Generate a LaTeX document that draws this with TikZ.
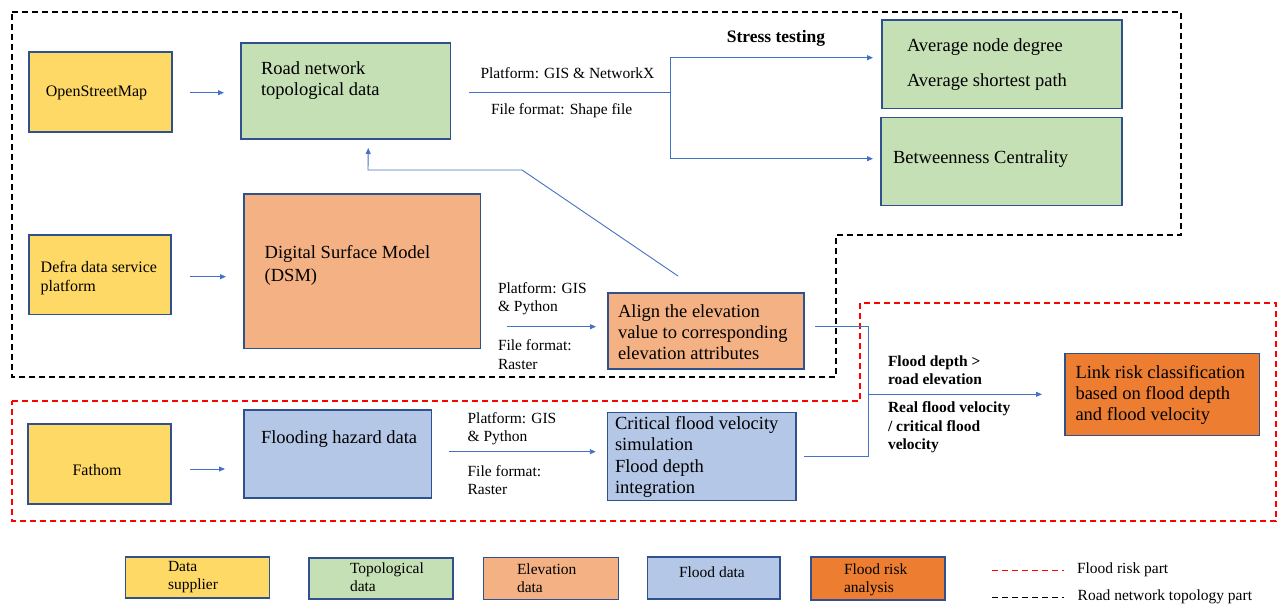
\documentclass[tikz,border=0pt]{standalone}
\usepackage{fontspec}
\setmainfont{Liberation Serif}
\usetikzlibrary{arrows.meta,calc}
\definecolor{cyel}{HTML}{FFD966}
\definecolor{cgrn}{HTML}{C5E0B4}
\definecolor{csal}{HTML}{F4B183}
\definecolor{cblu}{HTML}{B4C7E7}
\definecolor{corg}{HTML}{ED7D31}
\definecolor{cbord}{HTML}{2F528F}
\definecolor{cline}{HTML}{4472C4}
\definecolor{cred}{HTML}{FF0000}
\begin{document}
\begin{tikzpicture}[x=1pt,y=-1pt,
  box/.style={draw=cbord,line width=1.3pt,inner sep=0pt,outer sep=0pt},
  txt/.style={inner sep=0pt,outer sep=0pt,align=left,anchor=west},
  big/.style={font=\fontsize{18.5}{21.3}\selectfont},
  mid/.style={font=\fontsize{16}{19}\selectfont},
  lab/.style={font=\fontsize{15.5}{18.5}\selectfont},
  blab/.style={font=\fontsize{15.5}{18.5}\selectfont\bfseries},
  conn/.style={draw=cline,line width=0.9pt},
  arr/.style={conn,-{Triangle[length=6pt,width=5pt]}},
  bdash/.style={draw=black,line width=1.4pt,dash pattern=on 6pt off 4pt},
  rdash/.style={draw=cred,line width=1.4pt,dash pattern=on 6pt off 4pt},
  ldash/.style={line width=1pt,dash pattern=on 6pt off 4pt}]
\fill[white] (0,0) rectangle (1278,605);
\useasboundingbox (0,0) rectangle (1278,605);

% part frames
\draw[bdash] (12,12) -- (1181,12) -- (1181,235) -- (836,235) -- (836,377) -- (12,377) -- cycle;
\draw[rdash] (12,401) -- (860,401) -- (860,303) -- (1276,303) -- (1276,521) -- (12,521) -- cycle;

% boxes
\node[box,fill=cyel,minimum width=143pt,minimum height=80pt] (osm) at (100.5,92) {};
\node[box,fill=cgrn,minimum width=209.5pt,minimum height=96pt] (road) at (345.75,91) {};
\node[box,fill=cgrn,minimum width=240pt,minimum height=88.7pt] (avg) at (1002,64.3) {};
\node[box,fill=cgrn,minimum width=241pt,minimum height=88pt] (betw) at (1001.5,161.7) {};
\node[box,fill=cyel,minimum width=142pt,minimum height=79.7pt] (defra) at (100,274.9) {};
\node[box,fill=csal,minimum width=236.5pt,minimum height=154.3pt] (dsm) at (362.25,271.15) {};
\node[box,fill=csal,minimum width=196pt,minimum height=76pt] (align) at (706,331) {};
\node[box,fill=cyel,minimum width=143pt,minimum height=80pt] (fathom) at (99.5,464) {};
\node[box,fill=cblu,minimum width=187.5pt,minimum height=88pt] (flood) at (337.75,454) {};
\node[box,fill=cblu,minimum width=188.2pt,minimum height=88pt] (crit) at (701.9,456.7) {};
\node[box,fill=corg,minimum width=194.7pt,minimum height=82pt] (link) at (1162.35,394.3) {};

% box texts
\node[mid,inner sep=0pt] (osmt) at (96.5,92.5) {OpenStreetMap};
\node[txt,big] (roadt) at (261,80.5) {Road network\\topological data};
\node[txt,font=\fontsize{18.5}{35}\selectfont] (avgt) at (907,64.2) {Average node degree\\Average shortest path};
\node[txt,big] (betwt) at (893,159) {Betweenness Centrality};
\node[txt,mid] (defrat) at (40.7,277.8) {Defra data service\\platform};
\node[txt,font=\fontsize{18.5}{22.7}\selectfont] (dsmt) at (264.7,265.3) {Digital Surface Model\\(DSM)};
\node[txt,big] (alignt) at (618,332) {Align the elevation\\value to corresponding\\elevation attributes};
\node[mid,inner sep=0pt] (fathomt) at (97,470) {Fathom};
\node[txt,big] (floodt) at (261,439.3) {Flooding hazard data};
\node[txt,big] (critt) at (615,457) {Critical flood velocity\\simulation\\Flood depth\\integration};
\node[txt,big] (linkt) at (1075.5,395) {Link risk classification\\based on flood depth\\and flood velocity};

% labels
\node[font=\fontsize{17.5}{20}\selectfont\bfseries,inner sep=0pt] (stress) at (776,38) {Stress testing};
\node[txt,lab] (l1) at (480.5,72.7) {Platform: GIS \& NetworkX};
\node[txt,lab] (l2) at (491,110.7) {File format: Shape file};
\node[txt,lab] (l3) at (498,298.5) {Platform: GIS\\\& Python};
\node[txt,lab] (l4) at (498,354.7) {File format:\\Raster};
\node[txt,lab] (l5) at (467.6,428.5) {Platform: GIS\\\& Python};
\node[txt,lab] (l6) at (467.6,480) {File format:\\Raster};
\node[txt,blab] (l7) at (888,370) {Flood depth >\\road elevation};
\node[txt,blab] (l8) at (888,427.5) {Real flood velocity\\/ critical flood\\velocity};

% connectors
\draw[arr,shorten <=18pt,shorten >=17pt] ([yshift=-0.7pt]osm.east) -- ([yshift=-0.7pt]osm.east -| road.west);
\draw[arr,shorten <=19pt,shorten >=18pt] ([yshift=-1.8pt]defra.east) -- ([yshift=-1.8pt]defra.east -| dsm.west);
\draw[arr,shorten <=19pt,shorten >=19pt] ([yshift=-5pt]fathom.east) -- ([yshift=-5pt]fathom.east -| flood.west);

\coordinate (br) at ([xshift=220pt,yshift=-1.7pt]road.east);
\draw[conn] ([xshift=18pt,yshift=-1.7pt]road.east) -- (br);
\draw[arr] (br) |- ([xshift=-9pt,yshift=6.6pt]avg.west);
\draw[arr] (br) |- ([xshift=-8pt,yshift=3pt]betw.west);

\draw[arr] ([xshift=-101pt,yshift=4.3pt]align.west) -- ([xshift=-12pt,yshift=4.3pt]align.west);
\draw[arr] ([xshift=-159pt,yshift=5pt]crit.west) -- ([xshift=-12pt,yshift=5pt]crit.west);

\coordinate (jn) at ([xshift=-196.3pt]link.west);
\draw[conn] ([xshift=11pt,yshift=4.3pt]align.east) -| (jn);
\draw[conn] ([xshift=8pt,yshift=0.7pt]crit.east) -| (jn);
\draw[arr] (jn) -- ([xshift=-23pt]link.west);

\coordinate (d0) at ([xshift=-28pt,yshift=17pt]align.north);
\coordinate (d1) at (522,170);
\coordinate (d2) at (368,170);
\draw[arr] (d0) -- (d1) -- (d2) -- ([xshift=22.5pt,yshift=-9pt]road.south);

% legend
\node[box,fill=cyel,minimum width=143.8pt,minimum height=41pt] (lg1) at (197.6,577.5) {};
\node[box,fill=cgrn,minimum width=144pt,minimum height=41pt] (lg2) at (381,578.5) {};
\node[box,fill=csal,minimum width=135pt,minimum height=42pt] (lg3) at (551.1,578.5) {};
\node[box,fill=cblu,minimum width=132.6pt,minimum height=42pt] (lg4) at (713.7,578) {};
\node[box,fill=corg,minimum width=134pt,minimum height=43pt] (lg5) at (878,578.5) {};
\node[txt,lab] (lg1t) at (168,577.3) {Data\\supplier};
\node[txt,lab] (lg2t) at (350,577.3) {Topological\\data};
\node[txt,lab] (lg3t) at (517,578) {Elevation\\data};
\node[txt,lab] (lg4t) at (679,571.7) {Flood data};
\node[txt,lab] (lg5t) at (844,580) {Flood risk\\analysis};
\coordinate (r0) at (992,570);
\coordinate (k0) at (992,597.7);
\node[txt,lab] (lg6t) at (1077,570) {Flood risk part};
\node[txt,lab] (lg7t) at (1077.7,597) {Road network topology part};
\draw[ldash,draw=cred] (r0) -- ([xshift=-13pt]lg6t.west);
\draw[ldash,draw=black] (k0) -- ([xshift=-13.7pt,yshift=-0.7pt]lg7t.west);
\end{tikzpicture}
\end{document}
